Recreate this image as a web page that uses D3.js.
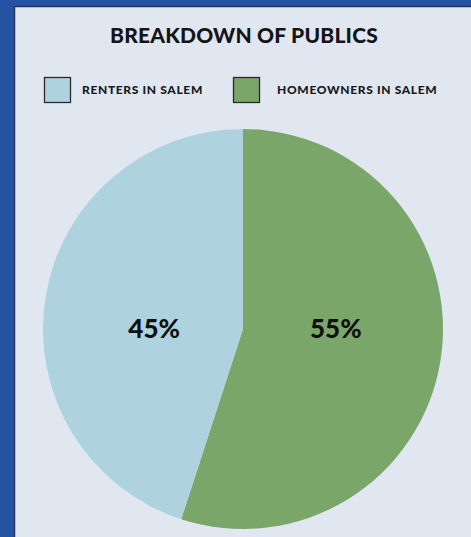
<!DOCTYPE html>
<html>
<head>
<meta charset="utf-8">
<script src="https://cdn.jsdelivr.net/npm/d3@7"></script>
<style>
  body { margin: 0; background: #2552a3; }
  svg { display: block; }
</style>
</head>
<body>
<div id="chart"></div>
<script>
var width = 471, height = 537;

// data
var categories = ["RENTERS IN SALEM", "HOMEOWNERS IN SALEM"];
var values = [45, 55];
var colors = ["#aed3de", "#7ba66a"];
var title = "BREAKDOWN OF PUBLICS";

var data = categories.map(function (c, i) {
  return {name: c, value: values[i], color: colors[i]};
});

var svg = d3.select("#chart").append("svg")
  .attr("width", width)
  .attr("height", height);

// blue frame + panel
svg.append("rect")
  .attr("width", width).attr("height", height)
  .attr("fill", "#2552a3");
svg.append("rect")
  .attr("x", 14.5).attr("y", 6.5)
  .attr("width", width).attr("height", height)
  .attr("fill", "#e1e7f1")
  .attr("stroke", "#2a3350")
  .attr("stroke-width", 1.5);

svg.append("text")
  .attr("x", 244).attr("y", 43)
  .attr("text-anchor", "middle")
  .style("font-family", "Lato")
  .style("font-weight", 900)
  .style("font-size", "21px")
  .style("letter-spacing", "0.2px")
  .style("fill", "#151515")
  .text(title);

// legend
var legendX = [44, 233];
var legendTextX = [82, 277];
var legend = svg.selectAll(".legend")
  .data(data)
  .enter().append("g")
  .attr("class", "legend");

legend.append("rect")
  .attr("x", function (d, i) { return legendX[i] + 0.5; })
  .attr("y", 77.5)
  .attr("width", 26).attr("height", 25)
  .attr("fill", function (d) { return d.color; })
  .attr("stroke", "#2a2a2a")
  .attr("stroke-width", 1.3);

legend.append("text")
  .attr("x", function (d, i) { return legendTextX[i]; })
  .attr("y", 93.5)
  .style("font-family", "Lato")
  .style("font-weight", 900)
  .style("font-size", "12px")
  .style("letter-spacing", "0.65px")
  .style("fill", "#1a1a1a")
  .text(function (d) { return d.name; });

// pie
var cx = 243, cy = 329, radius = 200;

var pie = d3.pie()
  .sort(null)
  .value(function (d) { return d.value; });

// homeowners start at 12 o'clock and run clockwise
var arcs = pie(data.slice().reverse());

var arc = d3.arc().innerRadius(0).outerRadius(radius);
var labelArc = d3.arc().innerRadius(0).outerRadius(radius * 0.92);

var g = svg.append("g")
  .attr("transform", "translate(" + cx + "," + cy + ")");

g.selectAll(".slice")
  .data(arcs)
  .enter().append("path")
  .attr("class", "slice")
  .attr("d", arc)
  .attr("fill", function (d) { return d.data.color; });

g.selectAll(".label")
  .data(arcs)
  .enter().append("text")
  .attr("class", "label")
  .attr("x", function (d) { return labelArc.centroid(d)[0] + 2; })
  .attr("y", 9)
  .attr("text-anchor", "middle")
  .style("font-family", "Lato")
  .style("font-weight", 900)
  .style("font-size", "26px")
  .style("fill", "#111")
  .text(function (d) { return d.data.value + "%"; });
</script>
</body>
</html>
